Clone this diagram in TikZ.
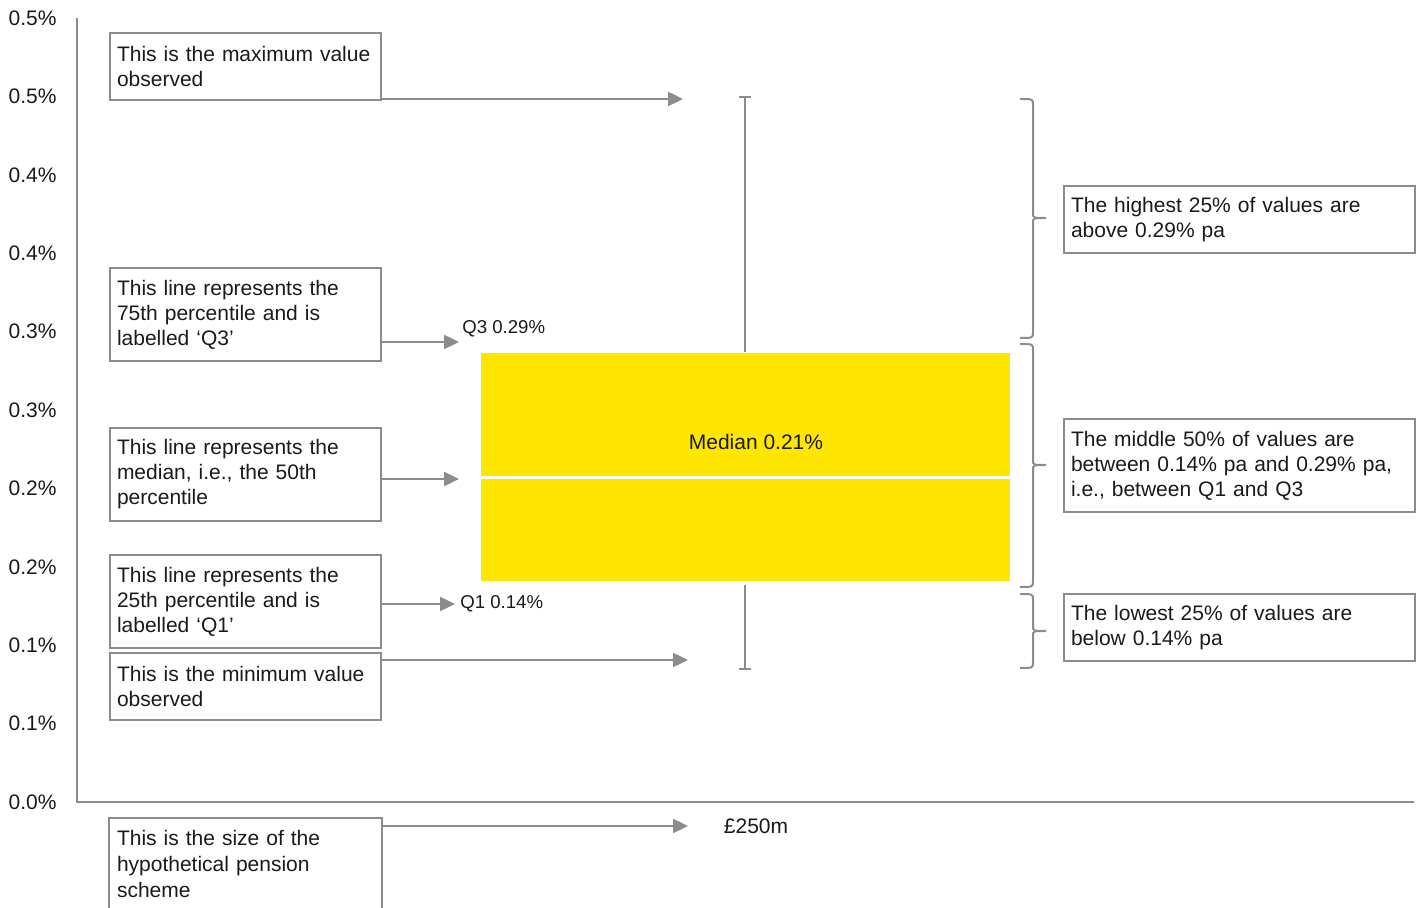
\documentclass[tikz,border=0pt]{standalone}
\usepackage{fontspec}
\setmainfont{Liberation Sans}
\usetikzlibrary{arrows.meta}
\definecolor{eygrey}{HTML}{8C8C8C}
\definecolor{eyyellow}{HTML}{FFE600}
\definecolor{eytext}{HTML}{1A1A1A}
\tikzset{>={Triangle[length=7.5pt,width=7pt]}}
\tikzset{
  note/.style={draw=eygrey, line width=1pt, anchor=north west, align=left,
    text width=#1, inner xsep=3.5pt, inner ysep=3pt, text=eytext,
    font=\fontsize{10.5}{12.5}\selectfont},
  note/.default=128.5pt,
  pointer/.style={->, draw=eygrey, fill=eygrey, line width=1.2pt},
  whisker/.style={draw=eygrey, line width=1.3pt},
  curly/.style={draw=eygrey, line width=1pt},
  tick/.style={anchor=east, inner sep=0pt, text=eytext,
    font=\fontsize{10.5}{12.5}\selectfont},
  small/.style={anchor=west, inner sep=0pt, text=eytext,
    font=\fontsize{9.3}{11}\selectfont}
}
% right-hand bracket: top, middle, bottom
\newcommand\bracket[3]{%
  \draw[curly] (1020,#1) .. controls (1033,#1) .. (1033,#1+6) -- (1033,#2-5)
    .. controls (1033,#2) .. (1046,#2) .. controls (1033,#2) .. (1033,#2+5)
    -- (1033,#3-6) .. controls (1033,#3) .. (1020,#3);}

\begin{document}
\begin{tikzpicture}[x=0.5pt, y=-0.5pt]
      \clip (0,0) rectangle (1419,908);
      % axes
      \draw[eygrey, line width=1pt] (77,18) -- (77,802) -- (1414,802);
      \foreach \v [count=\i from 0] in {0.5,0.5,0.4,0.4,0.3,0.3,0.2,0.2,0.1,0.1,0.0}
        \node[tick] (y\i) at (57,18+78.4*\i) {\v\%};
      % the box
      \fill[eyyellow] (481,353) rectangle (1010,476);
      \fill[eyyellow] (481,479) rectangle (1010,581);
      \node[text=eytext, font=\fontsize{10.5}{12.5}\selectfont] (med) at (756,442) {Median 0.21\%};
      \coordinate (top) at (745,97);
      \coordinate (bot) at (745,669);
      \draw[whisker] (top) -- (745,352);
      \draw[whisker] (739,97) -- (751,97);
      \draw[whisker] (745,585) -- (bot);
      \draw[whisker] (739,669) -- (751,669);
      \node[small] (q3) at (462,329) {Q3 0.29\%};
      \node[small] (q1) at (460,604) {Q1 0.14\%};
      \node[text=eytext, font=\fontsize{10.5}{12.5}\selectfont] (size) at (756,826) {£250m};
      % left notes
      \node[note, minimum height=33.5pt] (max) at (109,32)
           {This is the maximum value\\observed};
      \node[note, minimum height=46.5pt] (third) at (109,267)
           {This line represents the\\75th percentile and is\\labelled ‘Q3’};
      \node[note, minimum height=46.5pt] (median) at (109,427)
           {This line represents the\\median, i.e., the 50th\\percentile};
      \node[note, minimum height=46.5pt] (first) at (109,554)
           {This line represents the\\25th percentile and is\\labelled ‘Q1’};
      \node[note, minimum height=33.5pt] (min) at (109,652)
           {This is the minimum value\\observed};
      \node[note, draw=none, inner ysep=5.5pt, font=\fontsize{10.5}{13}\selectfont] (scheme) at (109,818)
           {This is the size of the\\hypothetical pension\\scheme};
      \draw[eygrey, line width=1pt] (scheme.south west) ++(0,40) -- (scheme.north west)
           -- (scheme.north east) -- ++(0,100);
      \coordinate (maxend) at (683,99);
      \coordinate (q3end) at (459,342);
      \coordinate (medend) at (459,479);
      \coordinate (q1end) at (455,604);
      \coordinate (minend) at (688,660);
      \coordinate (sizeend) at (688,826);
      \draw[pointer] (max.east |- maxend) -- (maxend);
      \draw[pointer] (third.east |- q3end) -- (q3end);
      \draw[pointer] (median.east |- medend) -- (medend);
      \draw[pointer] (first.east |- q1end) -- (q1end);
      \draw[pointer] (min.east |- minend) -- (minend);
      \draw[pointer] (scheme.east |- sizeend) -- (sizeend);
      % brackets
      \bracket{99}{218}{338}
      \bracket{344}{465}{587}
      \bracket{594}{631}{668}
      % right notes
      \node[note=168.5pt, minimum height=33.5pt] (high) at (1063,185)
           {The highest 25\% of values are\\above 0.29\% pa};
      \node[note=168.5pt, minimum height=46.5pt] (mid) at (1063,418)
           {The middle 50\% of values are\\between 0.14\% pa and 0.29\% pa,\\i.e., between Q1 and Q3};
      \node[note=168.5pt, minimum height=33.5pt] (low) at (1063,593)
           {The lowest 25\% of values are\\below 0.14\% pa};
    \end{tikzpicture}
\end{document}
